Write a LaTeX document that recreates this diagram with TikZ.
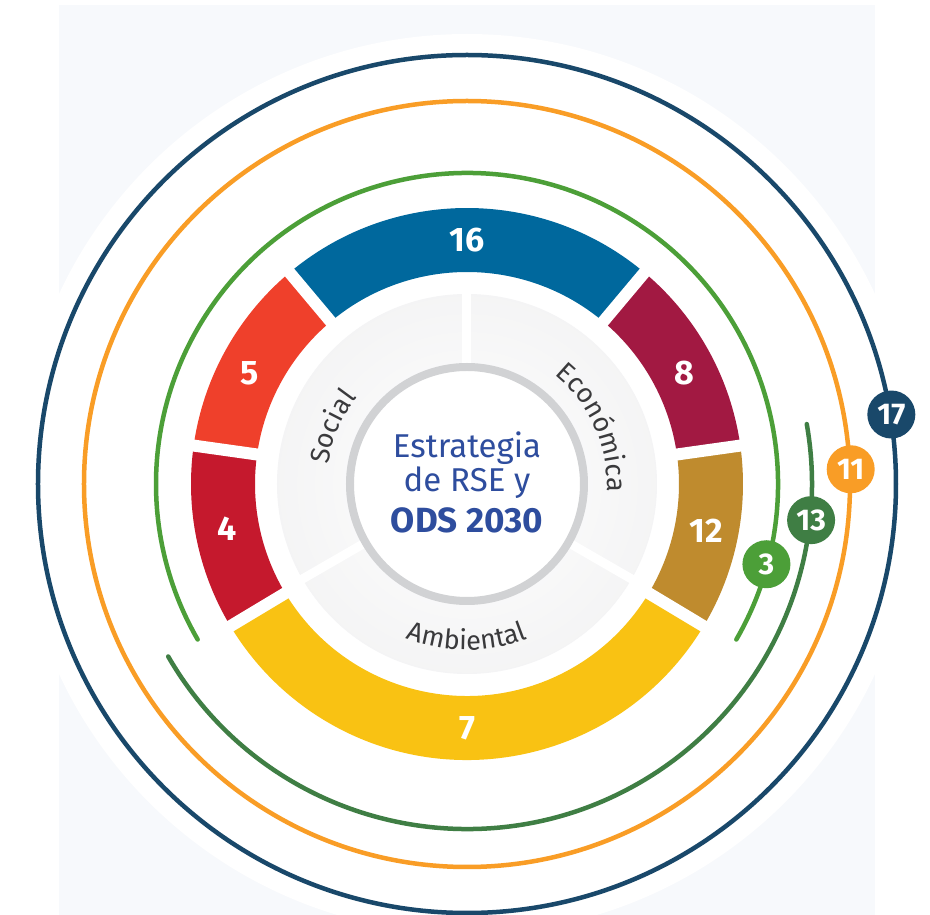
\documentclass[tikz,border=0pt]{standalone}
\usepackage{fontspec}
\setmainfont{Fira Sans}
\usetikzlibrary{decorations.text}

\definecolor{pale}{HTML}{F7F9FC}
\definecolor{ods3}{HTML}{4C9F38}
\definecolor{ods4}{HTML}{C5192D}
\definecolor{ods5}{HTML}{EF402B}
\definecolor{ods7}{HTML}{F9C213}
\definecolor{ods8}{HTML}{A21942}
\definecolor{ods11}{HTML}{F99D26}
\definecolor{ods12}{HTML}{BF8B2E}
\definecolor{ods13}{HTML}{3F7E44}
\definecolor{ods16}{HTML}{00689D}
\definecolor{ods17}{HTML}{19486A}
\definecolor{rseblue}{HTML}{2E4D9E}
\definecolor{lblgrey}{HTML}{3A3A3C}
\definecolor{ringgrey}{HTML}{D1D2D4}
\definecolor{greyin}{HTML}{F1F1F2}
\definecolor{greyout}{HTML}{DEDFE2}

\pgfdeclareradialshading{discgrey}{\pgfpoint{0bp}{0bp}}{color(0bp)=(white); color(33bp)=(greyin); color(50bp)=(greyout)}

\newcommand\etiqfont{\fontsize{27}{27}\selectfont}

\tikzset{
  badge/.style={circle, fill=#1, text=white, inner sep=0pt, minimum size=48pt,
    font=\bfseries\fontsize{30}{30}\selectfont},
  segnum/.style={text=white, font=\bfseries\fontsize{34}{34}\selectfont},
  ringline/.style={draw=#1, line width=4.5pt},
  gap/.style={draw=white, line width=#1},
  titulo/.style={text=rseblue, anchor=base, inner sep=0pt, font=\fontsize{33}{33}\selectfont},
  lbl/.style={decorate, decoration={text along path, text align=center, text color=lblgrey}}
}

\begin{document}
\begin{tikzpicture}[x=1pt,y=1pt]
\useasboundingbox (-467,-431) rectangle (463,484);
\fill[white] (-467,-431) rectangle (463,484);
\fill[pale] (-408,-431) rectangle (408,479);
\fill[white] (0,0) circle (450);

\draw[ringline=ods17] (0,0) circle (429);
\draw[ringline=ods11] (0,0) circle (383);
\draw[ringline=ods13, line cap=round] (-150:345) arc (-150:10:345);
\draw[ringline=ods3, line cap=round] (-30:311) arc (-30:210:311);

\foreach \a/\b/\c/\n/\m in {50/130/ods16/16/90, 130/172/ods5/5/153, 172/211/ods4/4/190.5,
    211/329/ods7/7/270, -31/8/ods12/12/-11, 8/50/ods8/8/27}{
  \fill[\c] (\a:212) arc (\a:\b:212) -- (\b:276) arc (\b:\a:276) -- cycle;
  \node[segnum] (s\n) at (\m:244) {\n};
}
\foreach \g in {8,50,130,172,211,329}
  \draw[gap=12pt] (\g:200) -- (\g:290);

\shade[shading=discgrey] (0,0) circle (190);
\foreach \g in {90,210,330}
  \draw[gap=9pt] (0,0) -- (\g:195);
\draw[draw=ringgrey, fill=white, line width=8pt] (0,0) circle (117);

\path[lbl, decoration={text={|\etiqfont|Social}}] (202:140) arc (202:112:140);
\path[lbl, decoration={text={|\etiqfont|Económica}}] (84:140) arc (84:-36:140);
\path[lbl, decoration={text={|\etiqfont|Ambiental}}] (225:166) arc (225:315:166);

\node[titulo] (l1) at (0,26) {Estrategia};
\node[titulo] (l2) at (0,-8) {de RSE y};
\node[titulo, font=\bfseries\fontsize{35}{35}\selectfont] (l3) at (0,-49) {ODS 2030};

\node[badge=ods3] (b3) at (-15:310) {3};
\node[badge=ods13] (b13) at (-6:346) {13};
\node[badge=ods11] (b11) at (2.2:384) {11};
\node[badge=ods17] (b17) at (9.3:430) {17};
\end{tikzpicture}
\end{document}
